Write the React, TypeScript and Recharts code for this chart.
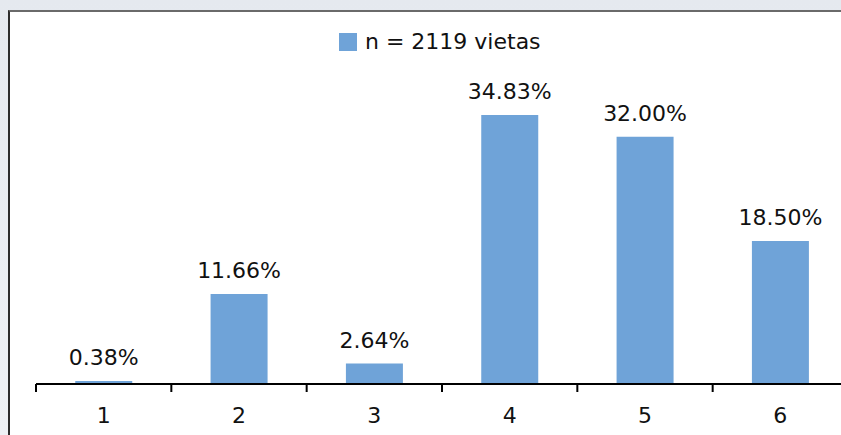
import React from "react";
import { BarChart, Bar, XAxis, YAxis, Legend, LabelList } from "recharts";

// Distribución de viñetas por número de paneles
const categories = ["1", "2", "3", "4", "5", "6"];
const shares = [0.38, 11.66, 2.64, 34.83, 32.0, 18.5];
const seriesName = "n = 2119 vietas";

const data = categories.map((label, i) => ({ label, share: shares[i] }));

const BAR_COLOR = "#6fa3d8";
const FONT = "'DejaVu Sans', Verdana, sans-serif";

// tick label at the band centre, tick mark on the band boundary
function BoundaryTick(props: any) {
  const { x, y, payload, index, visibleTicksCount } = props;
  const half = payload?.offset ?? 0;
  const axisY = y - 23;
  return (
    <g>
      <line x1={x - half} x2={x - half} y1={axisY} y2={axisY + 8} stroke="#000" strokeWidth={2} />
      {index === visibleTicksCount - 1 && (
        <line x1={x + half} x2={x + half} y1={axisY} y2={axisY + 8} stroke="#000" strokeWidth={2} />
      )}
      <text x={x} y={y} dy="0.71em" textAnchor="middle" fill="#111" fontSize={22} fontFamily={FONT}>
        {payload.value}
      </text>
    </g>
  );
}

function SeriesLegend() {
  return (
    <div style={{ display: "flex", alignItems: "center", fontFamily: FONT, fontSize: 22, color: "#111" }}>
      <span style={{ width: 18, height: 18, background: BAR_COLOR, marginRight: 8, display: "inline-block" }} />
      <span>{seriesName}</span>
    </div>
  );
}

export default function App() {
  return (
    <div
      style={{
        position: "absolute",
        left: 0,
        top: 0,
        width: 841,
        height: 435,
        overflow: "hidden",
        background: "linear-gradient(#e5e9ef, #eef1f5)",
      }}
    >
      <div
        style={{
          position: "absolute",
          left: 8,
          top: 10,
          right: -20,
          bottom: -20,
          background: "#fff",
          borderTop: "2px solid #6a6a6a",
          borderLeft: "2px solid #2c2c2c",
        }}
      />
      <div style={{ position: "absolute", left: 0, top: 0 }}>
        <BarChart
          width={880}
          height={435}
          data={data}
          margin={{ top: 75, right: 32, bottom: 11, left: 36 }}
          barCategoryGap="29%"
          style={{ fontFamily: FONT }}
        >
          <XAxis
            dataKey="label"
            height={40}
            axisLine={{ stroke: "#000", strokeWidth: 2 }}
            tickLine={false}
            tickSize={8}
            tickMargin={15}
            interval={0}
            tick={<BoundaryTick />}
          />
          <YAxis hide domain={[0, 40]} />
          <Legend
            verticalAlign="middle"
            align="center"
            content={<SeriesLegend />}
            wrapperStyle={{ top: 29, left: 339, width: "auto" }}
          />
          <Bar dataKey="share" name={seriesName} fill={BAR_COLOR} isAnimationActive={false}>
            <LabelList
              dataKey="share"
              position="top"
              offset={16}
              formatter={(v: any) => `${Number(v).toFixed(2)}%`}
              fill="#111"
              fontSize={22}
              fontFamily={FONT}
            />
          </Bar>
        </BarChart>
      </div>
    </div>
  );
}
